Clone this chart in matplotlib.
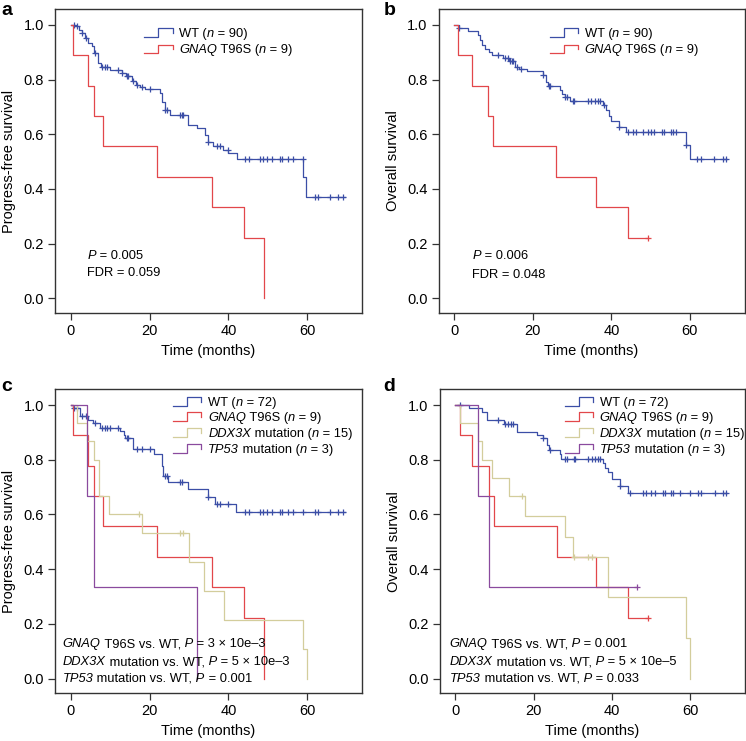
import numpy as np
import matplotlib
matplotlib.use("Agg")
import matplotlib.pyplot as plt

plt.rcParams['font.family'] = ['Liberation Sans', 'DejaVu Sans']

# ---------------- data ----------------
# Panel a: progression-free survival, WT vs GNAQ
a_wt_t = [0, 1.1, 2.0, 2.8, 3.6, 4.5, 5.3, 5.9, 7.0, 7.8, 10.0, 12.9, 14.0, 15.5, 16.5, 17.6,
          18.8, 22.6, 23.1, 23.9, 25.2, 29.8, 32.0, 34.1, 34.9, 36.2, 38.7, 40.0, 42.1, 59.0, 59.8]
a_wt_s = [1.0, 0.994, 0.982, 0.970, 0.951, 0.933, 0.923, 0.896, 0.860, 0.847, 0.836, 0.823,
          0.811, 0.793, 0.780, 0.774, 0.766, 0.750, 0.719, 0.689, 0.671, 0.634, 0.622, 0.598,
          0.573, 0.555, 0.543, 0.531, 0.508, 0.443, 0.370]
a_wt_end = 69.6
a_wt_cens = [0.8, 1.7, 2.8, 3.9, 6.2, 7.9, 8.7, 9.1, 12.1, 12.9, 14.2, 14.6, 15.9, 16.7, 18.0,
             20.1, 23.9, 24.3, 27.7, 28.1, 28.6, 34.9, 37.0, 37.9, 39.8, 44.2, 45.1, 48.0,
             48.9, 49.7, 51.0, 53.1, 53.5, 55.2, 56.5, 58.8, 62.0, 62.8, 65.8, 67.9, 69.1]
a_mu_t = [0, 0.5, 4.5, 6.0, 8.3, 22.0, 35.9, 44.0, 49.0]
a_mu_s = [1.0, 0.889, 0.778, 0.667, 0.556, 0.444, 0.333, 0.222, 0.0]
a_mu_end = 49.0
a_mu_cens = []

# Panel b: overall survival, WT vs GNAQ
b_wt_t = [0, 1.3, 3.6, 5.9, 6.6, 7.0, 7.9, 8.7, 9.6, 12.5, 13.8, 15.5, 16.5, 18.5, 22.6, 23.4,
          23.9, 26.8, 27.4, 28.1, 29.4, 37.8, 38.7, 39.3, 39.9, 41.9, 43.7, 59.0, 60.0]
b_wt_s = [1.0, 0.990, 0.978, 0.962, 0.946, 0.925, 0.910, 0.900, 0.890, 0.880, 0.868, 0.845,
          0.840, 0.830, 0.815, 0.790, 0.775, 0.760, 0.748, 0.735, 0.722, 0.708, 0.690, 0.668,
          0.648, 0.628, 0.608, 0.562, 0.510]
b_wt_end = 69.5
b_wt_cens = [1.3, 11.0, 12.9, 13.7, 14.1, 14.6, 15.0, 16.0, 16.9, 22.6, 24.1, 24.4, 28.3, 28.8,
             30.2, 30.6, 34.0, 34.9, 35.7, 36.5, 37.0, 38.0, 42.0, 44.2, 45.4, 46.3, 48.0,
             49.2, 50.1, 50.9, 53.0, 53.5, 55.2, 55.6, 56.4, 59.0, 61.9, 62.8, 66.2, 68.3, 69.1]
b_mu_t = [0, 1.0, 4.4, 8.5, 9.9, 26.0, 36.0, 44.2]
b_mu_s = [1.0, 0.889, 0.778, 0.667, 0.556, 0.444, 0.333, 0.222]
b_mu_end = 49.2
b_mu_cens = [49.2]

# Panel c: progression-free survival, four groups
c_wt_t = [0, 0.5, 2.4, 4.5, 5.7, 7.4, 12.5, 13.4, 13.8, 15.9, 21.0, 23.1, 23.5, 24.8, 29.8,
          34.9, 36.6, 41.9]
c_wt_s = [1.0, 0.988, 0.960, 0.947, 0.935, 0.915, 0.905, 0.890, 0.880, 0.840, 0.820, 0.777,
          0.740, 0.719, 0.692, 0.665, 0.640, 0.608]
c_wt_end = 69.6
c_wt_cens = [0.8, 1.7, 2.8, 3.9, 6.2, 7.9, 8.7, 9.1, 10.0, 12.1, 14.2, 14.6, 16.7, 18.0, 20.1,
             23.9, 24.3, 27.7, 28.1, 34.9, 37.0, 37.9, 39.8, 44.2, 45.1, 48.0, 48.9, 49.7,
             51.0, 53.1, 53.5, 55.2, 56.5, 59.0, 62.0, 62.8, 65.8, 67.9, 69.1]
c_gn_t = [0, 0.5, 4.5, 6.0, 8.3, 22.0, 35.9, 44.0, 49.0]
c_gn_s = [1.0, 0.889, 0.778, 0.667, 0.556, 0.444, 0.333, 0.222, 0.0]
c_gn_end = 49.0
c_gn_cens = []
c_dd_t = [0, 1.7, 4.1, 6.0, 7.2, 9.6, 18.0, 30.1, 33.8, 38.9, 59.0, 60.0]
c_dd_s = [1.0, 0.933, 0.867, 0.800, 0.667, 0.600, 0.533, 0.427, 0.320, 0.213, 0.107, 0.0]
c_dd_end = 60.0
c_dd_cens = [17.2, 27.7, 28.6]
c_tp_t = [0, 4.2, 6.0, 32.1]
c_tp_s = [1.0, 0.667, 0.333, 0.0]
c_tp_end = 32.1
c_tp_cens = []

# Panel d: overall survival, four groups
d_wt_t = [0, 3.4, 6.8, 8.1, 12.3, 15.7, 20.8, 22.5, 23.3, 23.8, 26.7, 27.1, 37.6, 38.2, 39.0,
          39.9, 42.0, 44.1]
d_wt_s = [1.0, 0.988, 0.975, 0.945, 0.930, 0.900, 0.890, 0.880, 0.855, 0.835, 0.820, 0.802,
          0.790, 0.770, 0.755, 0.730, 0.705, 0.680]
d_wt_end = 69.5
d_wt_cens = [1.1, 11.0, 12.7, 13.5, 14.1, 14.8, 22.5, 24.1, 28.0, 28.5, 30.2, 30.6, 34.0, 34.9,
             35.7, 36.5, 37.0, 42.0, 44.5, 48.0, 48.8, 50.1, 51.0, 53.1, 53.5, 55.2, 55.6,
             57.3, 59.9, 62.0, 62.8, 66.2, 68.3, 69.1]
d_gn_t = [0, 1.1, 4.3, 8.5, 9.8, 25.9, 35.9, 44.1]
d_gn_s = [1.0, 0.889, 0.778, 0.667, 0.556, 0.444, 0.333, 0.222]
d_gn_end = 49.2
d_gn_cens = [49.2]
d_dd_t = [0, 1.1, 5.9, 6.8, 9.3, 13.8, 17.8, 28.0, 30.1, 39.0, 59.0, 60.0]
d_dd_s = [1.0, 0.933, 0.867, 0.800, 0.733, 0.667, 0.593, 0.519, 0.445, 0.297, 0.148, 0.0]
d_dd_end = 60.0
d_dd_cens = [17.0, 30.3, 34.0, 34.8]
d_tp_t = [0, 5.9, 8.7]
d_tp_s = [1.0, 0.667, 0.333]
d_tp_end = 46.3
d_tp_cens = [46.3]

# text segments: (string, italic?)
labels_ab = [[("WT (", False), ("n", True), (" = 90)", False)],
             [("GNAQ", True), (" T96S (", False), ("n", True), (" = 9)", False)]]
labels_cd = [[("WT (", False), ("n", True), (" = 72)", False)],
             [("GNAQ", True), (" T96S (", False), ("n", True), (" = 9)", False)],
             [("DDX3X", True), (" mutation (", False), ("n", True), (" = 15)", False)],
             [("TP53", True), (" mutation (", False), ("n", True), (" = 3)", False)]]
stats_a = [[("P", True), (" = 0.005", False)], [("FDR = 0.059", False)]]
stats_b = [[("P", True), (" = 0.006", False)], [("FDR = 0.048", False)]]
stats_c = [[("GNAQ", True), (" T96S vs. WT,", False), (" P", True), (" = 3 × 10e\u20133", False)],
           [("DDX3X", True), (" mutation vs. WT,", False), (" P", True), (" = 5 × 10e\u20133", False)],
           [("TP53", True), (" mutation vs. WT,", False), (" P", True), (" = 0.001", False)]]
stats_d = [[("GNAQ", True), (" T96S vs. WT,", False), (" P", True), (" = 0.001", False)],
           [("DDX3X", True), (" mutation vs. WT,", False), (" P", True), (" = 5 × 10e\u20135", False)],
           [("TP53", True), (" mutation vs. WT,", False), (" P", True), (" = 0.033", False)]]
xticks = [0, 20, 40, 60]
yticks = [0.0, 0.2, 0.4, 0.6, 0.8, 1.0]

C_WT = '#3b4ea6'
C_GN = '#e2474a'
C_DD = '#d3cd9c'
C_TP = '#8a4a9e'
SPINE = '#333333'
FS = 9.3


def km(ax, t, s, end, cens, color):
    t = np.asarray(t, float)
    s = np.asarray(s, float)
    tt = np.append(t, end)
    ss = np.append(s, s[-1])
    ax.step(tt, ss, where='post', color=color, lw=0.9)
    if len(cens):
        c = np.asarray(cens, float)
        idx = np.searchsorted(t, c, side='right') - 1
        ax.plot(c, s[idx], ls='none', marker='+', ms=5, mew=0.9, color=color)


def rich(ax, x, y, segs, fs=FS):
    st = 'italic' if segs[0][1] else 'normal'
    t = ax.text(x, y, segs[0][0], transform=ax.transAxes, fontsize=fs,
                fontstyle=st, ha='left', va='baseline')
    for s, it in segs[1:]:
        t = ax.annotate(s, xy=(1, 0), xycoords=t, fontsize=fs,
                        fontstyle='italic' if it else 'normal',
                        ha='left', va='bottom')


def legend(ax, hx0, tx, ys, colors, labels):
    # step-shaped legend keys drawn in axes fraction
    w = 0.093
    h = 0.029
    for y, col, lab in zip(ys, colors, labels):
        xs = [hx0, hx0 + w / 2, hx0 + w / 2, hx0 + w, hx0 + w]
        yy = [y, y, y + h, y + h, y + 0.45 * h]
        ax.plot(xs, yy, color=col, lw=0.9, transform=ax.transAxes, clip_on=False)
        rich(ax, tx, y, lab)


def style(ax, ylabel):
    ax.set_xlim(-4.0, 73.9)
    ax.set_ylim(-0.054, 1.058)
    ax.set_xticks(xticks)
    ax.set_yticks(yticks)
    ax.set_yticklabels([f"{v:.1f}" for v in yticks])
    for sp in ax.spines.values():
        sp.set_color(SPINE)
        sp.set_linewidth(1.0)
    ax.tick_params(direction='out', length=5, width=0.9, color=SPINE,
                   labelsize=10.5, pad=3)
    ax.set_xlabel("Time (months)", fontsize=10.5, labelpad=4)
    ax.set_ylabel(ylabel, fontsize=10.5, labelpad=5)


fig = plt.figure(figsize=(7.46, 7.41), dpi=100)
ax_a = fig.add_axes([0.0737, 0.5776, 0.4116, 0.4103])
ax_b = fig.add_axes([0.5880, 0.5776, 0.4100, 0.4103])
ax_c = fig.add_axes([0.0737, 0.0644, 0.4116, 0.4103])
ax_d = fig.add_axes([0.5894, 0.0644, 0.4088, 0.4103])

# a
km(ax_a, a_wt_t, a_wt_s, a_wt_end, a_wt_cens, C_WT)
km(ax_a, a_mu_t, a_mu_s, a_mu_end, a_mu_cens, C_GN)
style(ax_a, "Progress-free survival")
legend(ax_a, 0.290, 0.404, [0.908, 0.854], [C_WT, C_GN], labels_ab)
for y, segs in zip([0.179, 0.122], stats_a):
    rich(ax_a, 0.105, y, segs)

# b
km(ax_b, b_wt_t, b_wt_s, b_wt_end, b_wt_cens, C_WT)
km(ax_b, b_mu_t, b_mu_s, b_mu_end, b_mu_cens, C_GN)
style(ax_b, "Overall survival")
legend(ax_b, 0.363, 0.477, [0.908, 0.854], [C_WT, C_GN], labels_ab)
for y, segs in zip([0.176, 0.116], stats_b):
    rich(ax_b, 0.110, y, segs)

# c
km(ax_c, c_wt_t, c_wt_s, c_wt_end, c_wt_cens, C_WT)
km(ax_c, c_gn_t, c_gn_s, c_gn_end, c_gn_cens, C_GN)
km(ax_c, c_dd_t, c_dd_s, c_dd_end, c_dd_cens, C_DD)
km(ax_c, c_tp_t, c_tp_s, c_tp_end, c_tp_cens, C_TP)
style(ax_c, "Progress-free survival")
legend(ax_c, 0.383, 0.499, [0.944, 0.895, 0.844, 0.791],
       [C_WT, C_GN, C_DD, C_TP], labels_cd)
for y, segs in zip([0.152, 0.092, 0.038], stats_c):
    rich(ax_c, 0.025, y, segs)

# d
km(ax_d, d_wt_t, d_wt_s, d_wt_end, d_wt_cens, C_WT)
km(ax_d, d_gn_t, d_gn_s, d_gn_end, d_gn_cens, C_GN)
km(ax_d, d_dd_t, d_dd_s, d_dd_end, d_dd_cens, C_DD)
km(ax_d, d_tp_t, d_tp_s, d_tp_end, d_tp_cens, C_TP)
style(ax_d, "Overall survival")
legend(ax_d, 0.410, 0.525, [0.944, 0.895, 0.844, 0.791],
       [C_WT, C_GN, C_DD, C_TP], labels_cd)
for y, segs in zip([0.152, 0.092, 0.038], stats_d):
    rich(ax_d, 0.033, y, segs)

# panel letters
for lab, x, y in [('a', 0.002, 0.997), ('b', 0.514, 0.997),
                  ('c', 0.002, 0.49), ('d', 0.514, 0.49)]:
    fig.text(x, y, lab, fontsize=14, fontweight='bold', ha='left', va='top')

fig.savefig("out.png", dpi=100)
